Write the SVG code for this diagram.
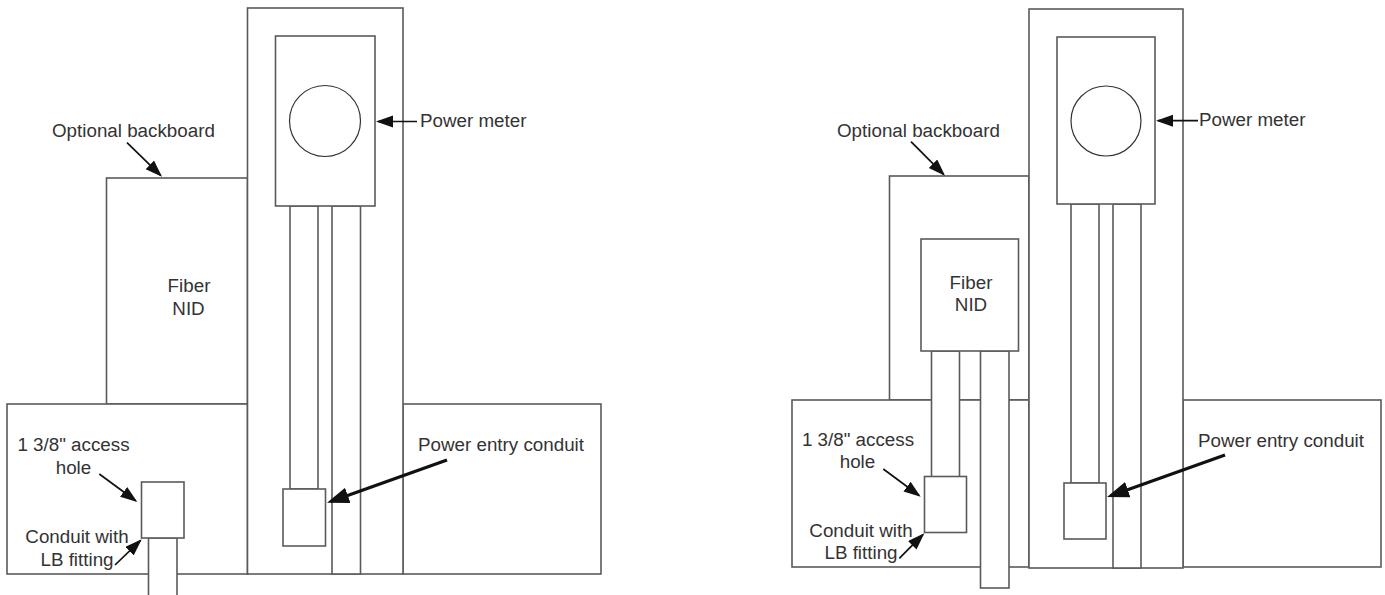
<svg xmlns="http://www.w3.org/2000/svg" width="1385" height="595" viewBox="0 0 1385 595">
<style>
.s{fill:#fff;stroke:#5a5a5a;stroke-width:1.6}
.o{fill:#fff;stroke:#333;stroke-width:1.2}
.c{fill:none;stroke:#111;stroke-width:1.7}
.w{stroke-width:3.2}
text{font-family:"Liberation Sans",Arial,sans-serif;font-size:18.8px;fill:#333}
.m{text-anchor:middle}
</style>
<defs>
<marker id="a" markerUnits="userSpaceOnUse" markerWidth="20" markerHeight="14" refX="15" refY="6" orient="auto"><path d="M0 0L17 6L0 12Z" fill="#111"/></marker>
<marker id="b" markerUnits="userSpaceOnUse" markerWidth="26" markerHeight="18" refX="18" refY="8" orient="auto"><path d="M0 0L22 8L0 16Z" fill="#111"/></marker>
</defs>
<rect width="1385" height="595" fill="#fff"/>
<g id="left-diagram">
<g id="l-backboard"><rect class="s" x="106.500" y="178" width="141" height="226"/><text class="m" x="189" y="292">Fiber</text><text class="m" x="188.500" y="314.500">NID</text></g>
<g id="l-wall-left"><rect class="s" x="7" y="404" width="240.500" height="170"/></g>
<g id="l-wall-right"><rect class="s" x="403" y="404" width="198" height="170"/></g>
<g id="l-column"><rect class="s" x="247.500" y="8" width="155.500" height="566"/></g>
<g id="l-conduit-1"><rect class="s" x="290" y="206" width="28" height="283"/></g>
<g id="l-conduit-2"><rect class="s" x="332" y="206" width="28.500" height="368"/></g>
<g id="l-meter"><rect class="s" x="275.500" y="36" width="99.500" height="170"/><circle class="o" cx="325" cy="121" r="35.500"/></g>
<g id="l-power-box"><rect class="s" x="283" y="489" width="42.500" height="57"/></g>
<g id="l-lb-conduit"><rect class="s" x="148.500" y="538" width="28.500" height="60"/></g>
<g id="l-hole-box"><rect class="s" x="141.500" y="482" width="42.500" height="56"/></g>
<g id="l-labels">
<text x="52" y="137">Optional backboard</text>
<text x="420" y="127">Power meter</text>
<text class="m" x="73.500" y="451">1 3/8" access</text>
<text class="m" x="73.500" y="474">hole</text>
<text class="m" x="77" y="543">Conduit with</text>
<text class="m" x="77" y="566">LB fitting</text>
<text x="418" y="451">Power entry conduit</text>
</g>
<g id="l-connectors">
<line class="c" x1="127" y1="142.700" x2="160.600" y2="175.300" marker-end="url(#a)"/>
<line class="c" x1="417" y1="121.500" x2="378" y2="121.500" marker-end="url(#a)"/>
<line class="c" x1="99.300" y1="474" x2="135.700" y2="500.800" marker-end="url(#a)"/>
<line class="c" x1="115" y1="565" x2="140.300" y2="540.700" marker-end="url(#a)"/>
<line class="c w" x1="447" y1="460" x2="330.800" y2="501.400" marker-end="url(#b)"/>
</g>
</g>
<g id="right-diagram">
<g id="r-backboard"><rect class="s" x="889.500" y="176" width="139.500" height="224"/></g>
<g id="r-wall-left"><rect class="s" x="792" y="400" width="237" height="167"/></g>
<g id="r-wall-right"><rect class="s" x="1183" y="400" width="198" height="167"/></g>
<g id="r-column"><rect class="s" x="1029" y="9" width="154" height="559"/></g>
<g id="r-nid-conduit-1"><rect class="s" x="931.500" y="351" width="28" height="126"/></g>
<g id="r-nid-conduit-2"><rect class="s" x="980.500" y="351" width="28.500" height="237"/></g>
<g id="r-nid"><rect class="s" x="921" y="239" width="97.500" height="112"/><text class="m" x="971" y="289">Fiber</text><text class="m" x="971" y="311">NID</text></g>
<g id="r-conduit-1"><rect class="s" x="1071" y="204" width="28" height="279"/></g>
<g id="r-conduit-2"><rect class="s" x="1113" y="204" width="28" height="364"/></g>
<g id="r-meter"><rect class="s" x="1057" y="37" width="98" height="167"/><circle class="o" cx="1106" cy="121" r="35"/></g>
<g id="r-power-box"><rect class="s" x="1064" y="483" width="42" height="56"/></g>
<g id="r-hole-box"><rect class="s" x="924.500" y="476.500" width="42" height="56"/></g>
<g id="r-labels">
<text x="837" y="137">Optional backboard</text>
<text x="1199" y="126">Power meter</text>
<text class="m" x="858" y="446">1 3/8" access</text>
<text class="m" x="857.500" y="468">hole</text>
<text class="m" x="861" y="537">Conduit with</text>
<text class="m" x="861" y="559">LB fitting</text>
<text x="1198" y="447">Power entry conduit</text>
</g>
<g id="r-connectors">
<line class="c" x1="911" y1="141.700" x2="943.600" y2="174.300" marker-end="url(#a)"/>
<line class="c" x1="1198" y1="120.700" x2="1158" y2="120.700" marker-end="url(#a)"/>
<line class="c" x1="883.300" y1="469" x2="919.100" y2="495.500" marker-end="url(#a)"/>
<line class="c" x1="899.300" y1="558.300" x2="922.900" y2="534.700" marker-end="url(#a)"/>
<line class="c w" x1="1225" y1="455" x2="1110.800" y2="495.700" marker-end="url(#b)"/>
</g>
</g>
</svg>
